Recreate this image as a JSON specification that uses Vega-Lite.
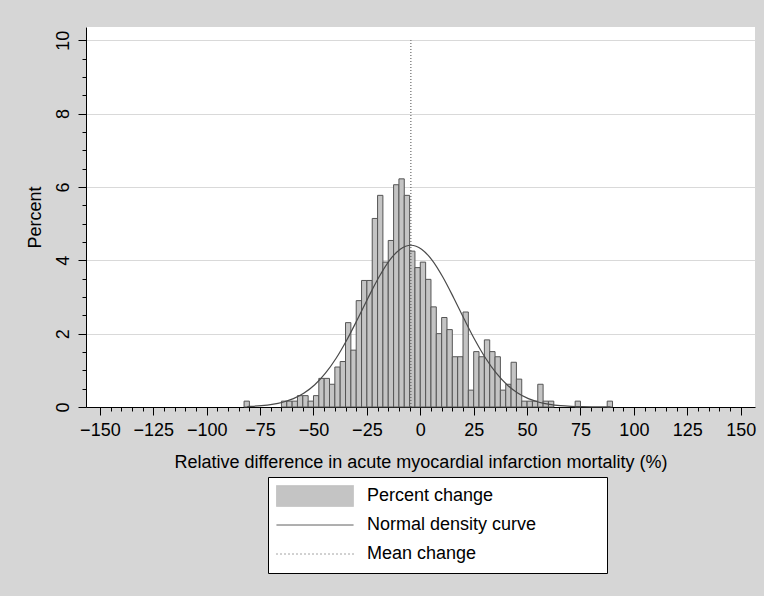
{
  "$schema": "https://vega.github.io/schema/vega-lite/v6.json",
  "width": 669,
  "height": 380,
  "autosize": {"type": "none"},
  "padding": {"left": 86, "top": 27, "right": 9, "bottom": 189},
  "background": "#d6d6d6",
  "view": {"fill": "white", "stroke": null},
  "config": {
    "font": "Liberation Sans",
    "axis": {
      "domainColor": "black",
      "domainWidth": 1,
      "tickColor": "black",
      "tickWidth": 1,
      "labelColor": "black",
      "labelFontSize": 18,
      "titleFontSize": 18,
      "titleFontWeight": "normal",
      "titleColor": "black",
      "labelOverlap": false,
      "labelFlush": false
    }
  },
  "datasets": {
    "hist": [
      {"lo": -82.5, "hi": -80, "pct": 0.16},
      {"lo": -65, "hi": -62.5, "pct": 0.16},
      {"lo": -62.5, "hi": -60, "pct": 0.16},
      {"lo": -60, "hi": -57.5, "pct": 0.16},
      {"lo": -57.5, "hi": -55, "pct": 0.31},
      {"lo": -55, "hi": -52.5, "pct": 0.31},
      {"lo": -52.5, "hi": -50, "pct": 0.16},
      {"lo": -50, "hi": -47.5, "pct": 0.31},
      {"lo": -47.5, "hi": -45, "pct": 0.78},
      {"lo": -45, "hi": -42.5, "pct": 0.78},
      {"lo": -42.5, "hi": -40, "pct": 0.62},
      {"lo": -40, "hi": -37.5, "pct": 1.09},
      {"lo": -37.5, "hi": -35, "pct": 1.24},
      {"lo": -35, "hi": -32.5, "pct": 2.3},
      {"lo": -32.5, "hi": -30, "pct": 1.55},
      {"lo": -30, "hi": -27.5, "pct": 2.9},
      {"lo": -27.5, "hi": -25, "pct": 3.45},
      {"lo": -25, "hi": -22.5, "pct": 3.45},
      {"lo": -22.5, "hi": -20, "pct": 5.14},
      {"lo": -20, "hi": -17.5, "pct": 5.77},
      {"lo": -17.5, "hi": -15, "pct": 3.95},
      {"lo": -15, "hi": -12.5, "pct": 4.54},
      {"lo": -12.5, "hi": -10, "pct": 6.06},
      {"lo": -10, "hi": -7.5, "pct": 6.22},
      {"lo": -7.5, "hi": -5, "pct": 5.77},
      {"lo": -5, "hi": -2.5, "pct": 4.25},
      {"lo": -2.5, "hi": 0, "pct": 3.8},
      {"lo": 0, "hi": 2.5, "pct": 3.95},
      {"lo": 2.5, "hi": 5, "pct": 3.48},
      {"lo": 5, "hi": 7.5, "pct": 2.73},
      {"lo": 7.5, "hi": 10, "pct": 2.0},
      {"lo": 10, "hi": 12.5, "pct": 2.44},
      {"lo": 12.5, "hi": 15, "pct": 2.11},
      {"lo": 15, "hi": 17.5, "pct": 1.37},
      {"lo": 17.5, "hi": 20, "pct": 1.37},
      {"lo": 20, "hi": 22.5, "pct": 2.59},
      {"lo": 22.5, "hi": 25, "pct": 0.46},
      {"lo": 25, "hi": 27.5, "pct": 1.51},
      {"lo": 27.5, "hi": 30, "pct": 1.37},
      {"lo": 30, "hi": 32.5, "pct": 1.83},
      {"lo": 32.5, "hi": 35, "pct": 1.51},
      {"lo": 35, "hi": 37.5, "pct": 1.37},
      {"lo": 37.5, "hi": 40, "pct": 0.46},
      {"lo": 40, "hi": 42.5, "pct": 0.62},
      {"lo": 42.5, "hi": 45, "pct": 1.22},
      {"lo": 45, "hi": 47.5, "pct": 0.76},
      {"lo": 47.5, "hi": 50, "pct": 0.16},
      {"lo": 50, "hi": 52.5, "pct": 0.16},
      {"lo": 52.5, "hi": 55, "pct": 0.16},
      {"lo": 55, "hi": 57.5, "pct": 0.62},
      {"lo": 57.5, "hi": 60, "pct": 0.16},
      {"lo": 60, "hi": 62.5, "pct": 0.16},
      {"lo": 72.5, "hi": 75, "pct": 0.16},
      {"lo": 87.5, "hi": 90, "pct": 0.16}
    ],
    "curve": [
      {"x": -81, "y": 0.0141},
      {"x": -79.4, "y": 0.0179},
      {"x": -74.4, "y": 0.0364},
      {"x": -69.4, "y": 0.0705},
      {"x": -64.4, "y": 0.130},
      {"x": -59.4, "y": 0.228},
      {"x": -54.4, "y": 0.382},
      {"x": -49.4, "y": 0.607},
      {"x": -44.4, "y": 0.921},
      {"x": -39.4, "y": 1.329},
      {"x": -34.4, "y": 1.827},
      {"x": -29.4, "y": 2.392},
      {"x": -24.4, "y": 2.981},
      {"x": -19.4, "y": 3.538},
      {"x": -14.4, "y": 3.999},
      {"x": -9.4, "y": 4.303},
      {"x": -4.4, "y": 4.41},
      {"x": 0.6, "y": 4.303},
      {"x": 5.6, "y": 3.999},
      {"x": 10.6, "y": 3.538},
      {"x": 15.6, "y": 2.981},
      {"x": 20.6, "y": 2.392},
      {"x": 25.6, "y": 1.827},
      {"x": 30.6, "y": 1.329},
      {"x": 35.6, "y": 0.921},
      {"x": 40.6, "y": 0.607},
      {"x": 45.6, "y": 0.382},
      {"x": 50.6, "y": 0.228},
      {"x": 55.6, "y": 0.130},
      {"x": 60.6, "y": 0.0705},
      {"x": 65.6, "y": 0.0364},
      {"x": 70.6, "y": 0.0179},
      {"x": 75.6, "y": 0.0084},
      {"x": 80.6, "y": 0.0037},
      {"x": 85.6, "y": 0.0016},
      {"x": 89, "y": 0.0009}
    ],
    "mean": [{"m": -4.4, "bot": 0, "top": 10}]
  },
  "layer": [
    {
      "data": {"name": "hist"},
      "mark": {"type": "rect", "stroke": "#555555", "strokeWidth": 1},
      "encoding": {
        "x": {
          "field": "lo",
          "type": "quantitative",
          "scale": {"domain": [-156.5, 156.7], "nice": false, "zero": false},
          "axis": {
            "values": [-150,-145,-140,-135,-130,-125,-120,-115,-110,-105,-100,-95,-90,-85,-80,-75,-70,-65,-60,-55,-50,-45,-40,-35,-30,-25,-20,-15,-10,-5,0,5,10,15,20,25,30,35,40,45,50,55,60,65,70,75,80,85,90,95,100,105,110,115,120,125,130,135,140,145,150],
            "tickCount": 200,
            "labelExpr": "datum.value % 25 === 0 ? format(datum.value, 'd') : ''",
            "tickSize": {"condition": {"test": "datum.value % 25 === 0", "value": 8}, "value": 4},
            "labelOverlap": false,
            "labelPadding": 6,
            "grid": false,
            "title": "Relative difference in acute myocardial infarction mortality (%)",
            "titlePadding": 14
          }
        },
        "x2": {"field": "hi"},
        "y": {
          "field": "pct",
          "type": "quantitative",
          "scale": {"domain": [0, 10.36], "nice": false},
          "axis": {
            "values": [0,0.5,1,1.5,2,2.5,3,3.5,4,4.5,5,5.5,6,6.5,7,7.5,8,8.5,9,9.5,10],
            "tickCount": 200,
            "labelExpr": "datum.value % 2 === 0 ? format(datum.value, 'd') : ''",
            "tickSize": {"condition": {"test": "datum.value % 2 === 0", "value": 8}, "value": 4},
            "labelOverlap": false,
            "labelAngle": 270,
            "labelAlign": "center",
            "labelBaseline": "alphabetic",
            "labelPadding": 10,
            "grid": true,
            "gridColor": "#d9d9d9",
            "gridWidth": 1,
            "gridOpacity": {"condition": {"test": "datum.value % 2 === 0 && datum.value > 0", "value": 1}, "value": 0},
            "title": "Percent",
            "titlePadding": 10
          }
        },
        "y2": {"datum": 0},
        "color": {
          "datum": "Percent change",
          "scale": {
            "domain": ["Percent change", "Normal density curve", "Mean change"],
            "range": ["#c4c4c4", "#4a4a4a", "#4a4a4a"]
          },
          "legend": {
            "title": " ",
            "titleOrient": "right",
            "titlePadding": 63,
            "titleFontSize": 10,
            "orient": "none",
            "legendX": 182,
            "legendY": 450,
            "direction": "vertical",
            "fillColor": "white",
            "strokeColor": "black",
            "padding": 8,
            "symbolSize": 5929,
            "clipHeight": 22,
            "rowPadding": 7,
            "labelOffset": 13,
            "labelFontSize": 18,
            "labelColor": "black",
            "labelLimit": 400,
            "symbolStrokeWidth": 1,
            "encoding": {
              "symbols": {
                "shape": {"condition": {"test": "datum.value === 'Percent change'", "value": "M-1,-0.27H1V0.27H-1Z"}, "value": "M-1,0H1"},
                "fill": {"condition": {"test": "datum.value === 'Percent change'", "value": "#c4c4c4"}, "value": "transparent"},
                "stroke": {"condition": {"test": "datum.value === 'Percent change'", "value": "#555555"}, "value": "#4a4a4a"},
                "strokeDash": {"condition": {"test": "datum.value === 'Mean change'", "value": [1, 3]}, "value": [1, 0]},
                "strokeWidth": {"value": 1},
                "opacity": {"value": 1},
                "fillOpacity": {"value": 1},
                "strokeOpacity": {"value": 1},
                "size": {"value": 5929}
              }
            }
          }
        }
      }
    },
    {
      "data": {"name": "curve"},
      "mark": {"type": "line", "strokeWidth": 1.2, "interpolate": "monotone"},
      "encoding": {
        "x": {"field": "x", "type": "quantitative"},
        "y": {"field": "y", "type": "quantitative"},
        "color": {"datum": "Normal density curve"}
      }
    },
    {
      "data": {"name": "mean"},
      "mark": {"type": "rule", "strokeDash": [1, 2], "strokeWidth": 1},
      "encoding": {
        "x": {"field": "m", "type": "quantitative"},
        "y": {"field": "bot", "type": "quantitative"},
        "y2": {"field": "top"},
        "color": {"datum": "Mean change"}
      }
    }
  ]
}
